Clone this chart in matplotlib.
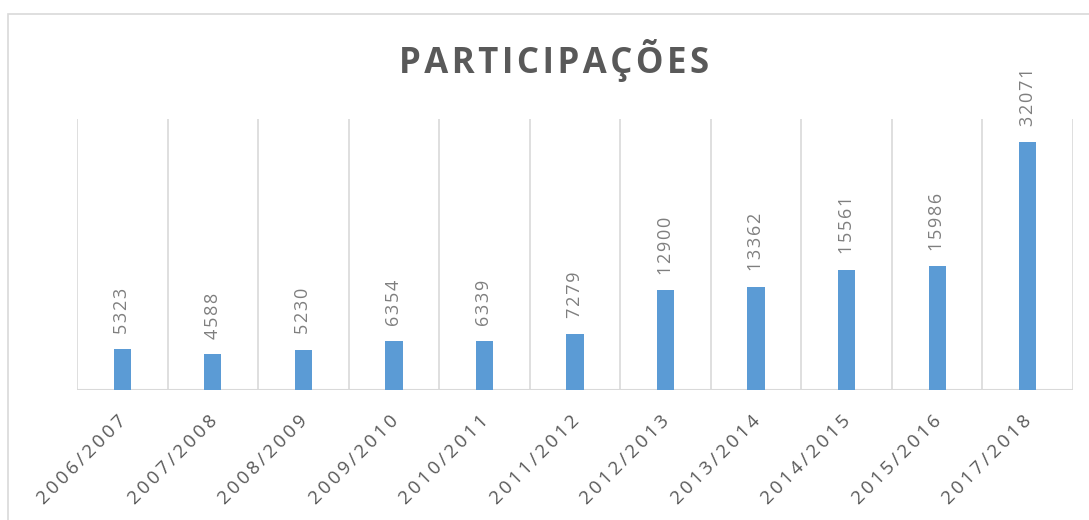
import matplotlib
matplotlib.use('Agg')
import matplotlib.pyplot as plt
from matplotlib.patches import Rectangle

plt.rcParams['font.family'] = ['Open Sans', 'DejaVu Sans']

anos = ['2006/2007', '2007/2008', '2008/2009', '2009/2010', '2010/2011', '2011/2012',
        '2012/2013', '2013/2014', '2014/2015', '2015/2016', '2017/2018']
participacoes = [5323, 4588, 5230, 6354, 6339, 7279, 12900, 13362, 15561, 15986, 32071]

titulo = 'PARTICIPAÇÕES'


def espacar(s, sep='\u200a'):
    # imitate the letter spacing used by the spreadsheet
    return sep.join(s)


fig = plt.figure(figsize=(10.89, 5.2), dpi=100)
ax = fig.add_axes([77 / 1089, 130 / 520, 996 / 1089, 271 / 520])

x = list(range(len(anos)))
ax.bar(x, participacoes, width=0.19, color='#5B9BD5', zorder=3)

for xi, v in zip(x, participacoes):
    ax.annotate(espacar(str(v)), (xi, v), xytext=(0, 11), textcoords='offset points',
                rotation=90, ha='center', va='bottom', fontsize=13, color='#7F7F7F')

ax.set_xlim(-0.5, len(anos) - 0.5)
ax.set_ylim(0, 35000)

# vertical gridlines between categories
for b in range(len(anos) + 1):
    ax.axvline(b - 0.5, color='#D9D9D9', lw=1.2, zorder=1)
ax.axhline(0, color='#D9D9D9', lw=1.5, zorder=2)

for s in ax.spines.values():
    s.set_visible(False)
ax.set_yticks([])
ax.set_xticks(x)
ax.set_xticklabels([espacar(a, '\u2009') for a in anos], rotation=45, ha='right',
                   rotation_mode='anchor', fontsize=13.5, color='#595959')
ax.tick_params(axis='x', length=0, pad=16)
for lbl in ax.get_xticklabels():
    lbl.set_x(lbl.get_position()[0])
    lbl.set_transform(lbl.get_transform() + matplotlib.transforms.ScaledTranslation(-5 / 100, 0, fig.dpi_scale_trans))

fig.text(0.509, 0.884, espacar(titulo), ha='center', va='center',
         fontsize=25, fontweight='bold', color='#595959')

# outer chart border
fig.patches.append(Rectangle((8 / 1089, -0.1), 1.2, 0.1 + (520 - 13.5) / 520,
                             transform=fig.transFigure, fill=False,
                             edgecolor='#D9D9D9', lw=1.2))

fig.savefig('out.png', dpi=100)
